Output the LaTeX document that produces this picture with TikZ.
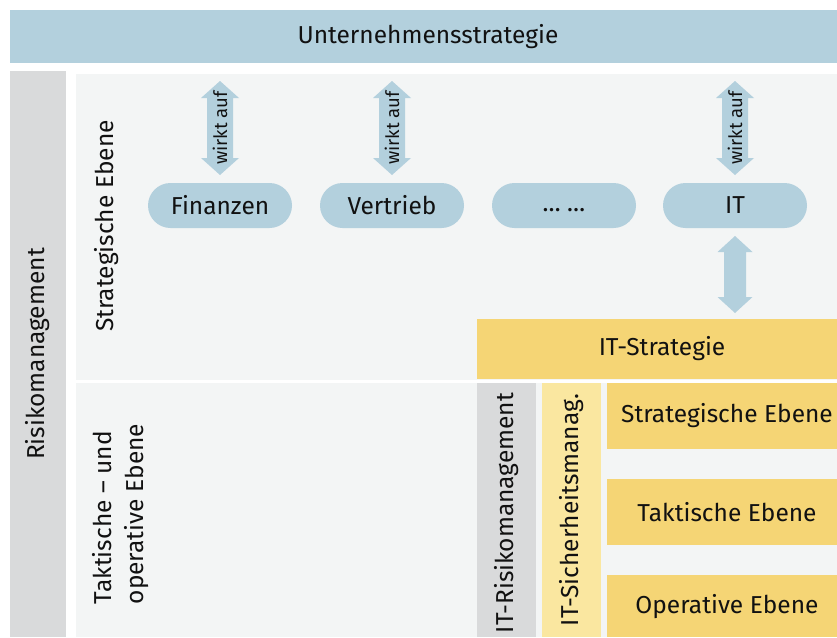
\documentclass[tikz,border=0pt]{standalone}
\usepackage{fontspec}
\setmainfont{Fira Sans}
\definecolor{topblue}{HTML}{B3D0DD}
\definecolor{riskgray}{HTML}{D9DADB}
\definecolor{panel}{HTML}{F3F5F5}
\definecolor{ityellow}{HTML}{F5D575}
\definecolor{lightyellow}{HTML}{FAE7A0}
\definecolor{txt}{HTML}{111111}
\newcommand{\dblarrow}[6]{% x, ytop, ybot, half shaft, half head, head length
  \fill[topblue] (#1-#4,#2+#6) -- (#1-#5,#2+#6) -- (#1,#2) -- (#1+#5,#2+#6) -- (#1+#4,#2+#6)
    -- (#1+#4,#3-#6) -- (#1+#5,#3-#6) -- (#1,#3) -- (#1-#5,#3-#6) -- (#1-#4,#3-#6) -- cycle;}
\begin{document}
\begin{tikzpicture}[x=1pt,y=-1pt,
  box/.style={rectangle, inner sep=0pt, outer sep=0pt, text=txt, font=\fontsize{24.5}{29}\selectfont},
  bluebar/.style={box, fill=topblue},
  graybar/.style={box, fill=riskgray},
  panelbox/.style={box, fill=panel},
  yellowbox/.style={box, fill=ityellow},
  lyellowbox/.style={box, fill=lightyellow},
  pill/.style={box, fill=topblue, rounded corners=22.5pt, minimum width=144pt, minimum height=45pt},
  vlabel/.style={rotate=90, inner sep=0pt, text=txt, font=\fontsize{24.5}{32}\selectfont},
  arrowlabel/.style={rotate=90, inner sep=0pt, text=txt, font=\fontsize{18.5}{22}\selectfont}
]
\useasboundingbox (0,0) rectangle (837,637);
\fill[white] (0,0) rectangle (837,637);

% top bar
\node[bluebar, minimum width=827pt, minimum height=53pt] (top) at (423.5,36.5) {};
\node[box] (toptext) at (428,37) {Unternehmensstrategie};

% left risk management bar
\node[graybar, minimum width=56pt, minimum height=566pt] (risk) at (38,354) {};
\node[vlabel] (risktext) at (38,354) {Risikomanagement};

% panels
\node[panelbox, minimum width=761pt, minimum height=306pt] (upper) at (456.5,227) {};
\node[panelbox, minimum width=761pt, minimum height=254pt] (lower) at (456.5,510) {};
\node[vlabel] (uppertext) at (107,226) {Strategische Ebene};
\node[vlabel, align=left] (lowertext) at (121,514) {Taktische – und\\operative Ebene};

% pills
\node[pill] (fin) at (220,205.5) {Finanzen};
\node[pill] (ver) at (392,205.5) {Vertrieb};
\node[pill] (dots) at (564,205.5) {\vphantom{Fg}… …};
\node[pill] (it) at (735,205.5) {IT};

% wirkt auf arrows
\dblarrow{220}{81}{175}{13}{19}{17}
\dblarrow{392}{81}{175}{13}{19}{17}
\dblarrow{735}{81}{175}{13}{19}{17}
\node[arrowlabel] (a1) at (220,128) {wirkt auf};
\node[arrowlabel] (a2) at (392,128) {wirkt auf};
\node[arrowlabel] (a3) at (735,128) {wirkt auf};

% IT strategy
\node[yellowbox, minimum width=360pt, minimum height=60pt] (itstrat) at (657,349) {};
\node[box] (itstrattext) at (662,349) {IT-Strategie};
\dblarrow{735}{236}{313}{11}{17.5}{16}

% lower columns
\node[graybar, minimum width=59pt, minimum height=254pt] (itrisk) at (506.5,510) {};
\node[vlabel] (itrisktext) at (506.5,513) {IT-Risikomanagement};
\node[lyellowbox, minimum width=59pt, minimum height=254pt] (itsec) at (571.5,510) {};
\node[vlabel] (itsectext) at (571.5,510) {IT-Sicherheitsmanag.};

% level boxes
\node[yellowbox, minimum width=230pt, minimum height=66pt] (lvl1) at (722,416) {};
\node[box] (lvl1text) at (727,416) {Strategische Ebene};
\node[yellowbox, minimum width=230pt, minimum height=66pt] (lvl2) at (722,512) {};
\node[box] (lvl2text) at (727,512) {Taktische Ebene};
\node[yellowbox, minimum width=230pt, minimum height=62pt] (lvl3) at (722,606) {};
\node[box] (lvl3text) at (727,607) {Operative Ebene};
\end{tikzpicture}
\end{document}
